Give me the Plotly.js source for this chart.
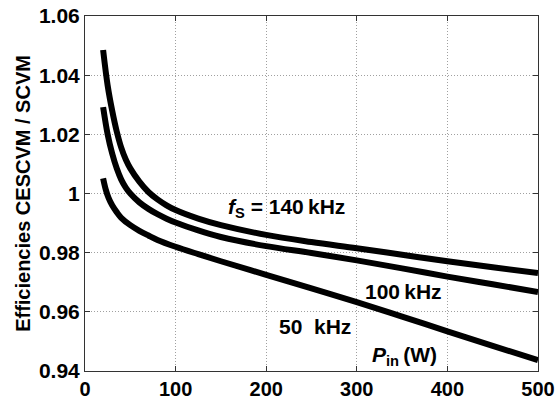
<!DOCTYPE html>
<html>
<head>
<meta charset="utf-8">
<script src="https://cdn.plot.ly/plotly-3.0.1.min.js"></script>
<style>html,body{margin:0;padding:0;background:#fff}#chart{width:557px;height:399px}</style>
</head>
<body>
<div id="chart"></div>
<script>
const x140 = [20, 25, 30, 35, 40, 45, 50, 60, 70, 80, 90, 100, 125, 150, 200, 250, 300, 350, 400, 450, 500];
const y140 = [1.0485, 1.0365, 1.0280, 1.0210, 1.0155, 1.0115, 1.0085, 1.0040, 1.0005, 0.9980, 0.9960, 0.9944, 0.9915, 0.9893, 0.9860, 0.9836, 0.9815, 0.9793, 0.9771, 0.9751, 0.9731];

const x100 = [20, 25, 30, 35, 40, 45, 50, 60, 70, 80, 90, 100, 125, 150, 200, 250, 300, 350, 400, 450, 500];
const y100 = [1.0292, 1.0200, 1.0135, 1.0085, 1.0047, 1.0020, 1.0000, 0.9970, 0.9948, 0.9930, 0.9915, 0.9902, 0.9875, 0.9853, 0.9822, 0.9799, 0.9774, 0.9747, 0.9719, 0.9693, 0.9667];

const x50 = [20, 23, 26, 30, 35, 40, 50, 60, 70, 80, 100, 125, 150, 200, 250, 300, 350, 400, 450, 500];
const y50 = [1.0051, 1.0012, 0.9985, 0.9960, 0.9937, 0.9918, 0.9893, 0.9874, 0.9858, 0.9843, 0.9820, 0.9795, 0.9771, 0.9725, 0.9679, 0.9633, 0.9584, 0.9534, 0.9485, 0.9437];

const xTicks = [0, 100, 200, 300, 400, 500];
const yTicks = [0.94, 0.96, 0.98, 1, 1.02, 1.04, 1.06];
const yTickLabels = ['0.94', '0.96', '0.98', '1', '1.02', '1.04', '1.06'];

const labels = [
  {text: '<i>f</i><sub>S</sub> = 140\u2009kHz', x: 222, y: 0.9952},
  {text: '100\u2009kHz', x: 351, y: 0.9670},
  {text: '50  kHz', x: 254, y: 0.9549},
  {text: '<i>P</i><sub>in</sub>\u2009(W)', x: 353, y: 0.9450}
];

const FONT = 'Liberation Sans, Arial, sans-serif';
const mk = (x, y) => ({x: x, y: y, type: 'scatter', mode: 'lines',
  line: {color: '#000', width: 6, shape: 'spline', smoothing: 1}, hoverinfo: 'skip'});

const data = [mk(x140, y140), mk(x100, y100), mk(x50, y50)];

const axisCommon = {
  showline: true, linecolor: '#333', linewidth: 1, mirror: 'ticks',
  ticks: 'inside', ticklen: 5, tickcolor: '#333', tickwidth: 1,
  showgrid: true, gridcolor: '#a0a0a0', griddash: '1px,2px', gridwidth: 1,
  zeroline: false
};

const layout = {
  width: 557, height: 399,
  margin: {l: 85, r: 19, t: 16, b: 28},
  paper_bgcolor: '#fff', plot_bgcolor: '#fff',
  showlegend: false,
  xaxis: Object.assign({}, axisCommon, {
    range: [0, 500], tickmode: 'array', tickvals: xTicks, ticktext: xTicks.map(String),
    tickfont: {family: FONT, size: 20, color: '#000', weight: 'bold'}
  }),
  yaxis: Object.assign({}, axisCommon, {
    range: [0.94, 1.06], tickmode: 'array', tickvals: yTicks, ticktext: yTickLabels,
    tickfont: {family: FONT, size: 21, color: '#000', weight: 'bold'},
    title: {text: 'Efficiencies CESCVM / SCVM', standoff: 2,
      font: {family: FONT, size: 20, color: '#000', weight: 'bold'}}
  }),
  annotations: labels.map(l => ({
    x: l.x, y: l.y, xref: 'x', yref: 'y', text: l.text, showarrow: false,
    font: {family: FONT, size: 21, color: '#000', weight: 'bold'},
    xanchor: 'center', yanchor: 'middle'
  }))
};

Plotly.newPlot('chart', data, layout, {staticPlot: true, displayModeBar: false});
</script>
</body>
</html>
